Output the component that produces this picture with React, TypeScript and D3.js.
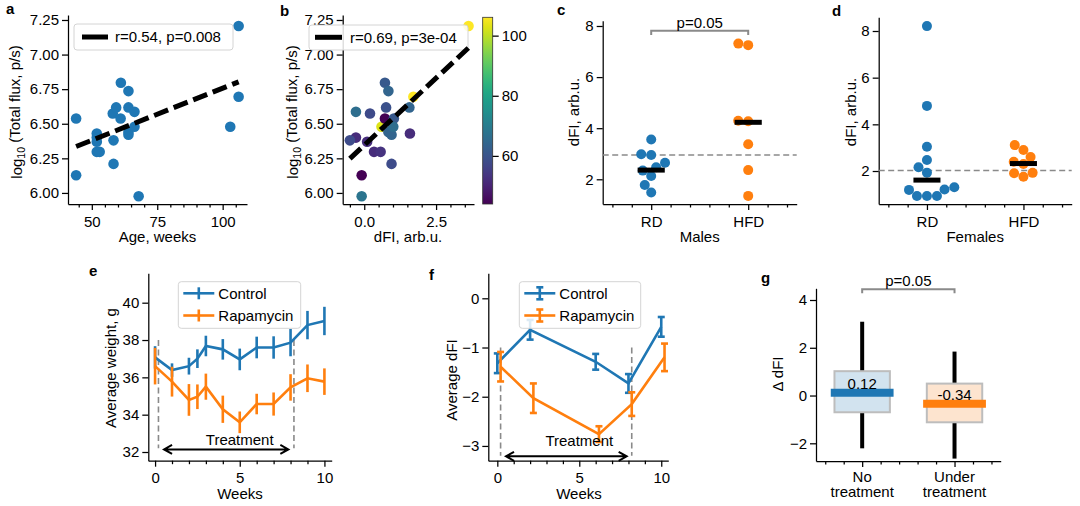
import React, { useEffect, useRef } from "react";
import * as d3 from "d3";

const FONT = '"Liberation Sans", Arial, Helvetica, sans-serif';
const BLUE = "#1f77b4";
const ORANGE = "#ff7f0e";
const GRAY = "#8a8a8a";

// ---------- Panels a & b : individual mice ----------
const mouseAge = [102.9, 44, 44, 51.9, 51.9, 51.9, 51.9, 53, 58.3, 58.3, 58, 59.3, 61, 61.1, 64, 64, 64, 64, 66.3, 66.3, 67.9, 106.1, 106.1];
const mouseFlux = [6.478, 6.538, 6.128, 6.43, 6.37, 6.297, 6.4, 6.297, 6.38, 6.21, 6.574, 6.618, 6.538, 6.796, 6.736, 6.618, 6.44, 6.42, 6.586, 6.478, 5.976, 6.695, 7.207];
const mouseDFI = [0.6, 0.72, -0.09, 1.59, 0.1, 0.34, -0.29, 0.57, -0.5, 0.95, 0.2, 0.76, 1.03, 0.72, 0.84, 1.57, 0.84, 0.95, -0.29, 1.01, -0.09, 1.71, 3.63];
const statsA = "r=0.54, p=0.008";
const statsB = "r=0.69, p=3e-04";
const colorbarTicks = [60, 80, 100];

// ---------- Panels c & d : dFI by diet ----------
const dietGroups = ["RD", "HFD"];
const maleRD = [3.56, 2.98, 2.95, 2.65, 2.47, 2.34, 2.13, 1.78, 1.48];
const maleHFD = [7.31, 7.25, 4.29, 4.27, 3.37, 2.36, 1.35];
const maleMedians = [2.36, 4.23];
const maleRef = 2.95;
const femaleRD = [8.21, 4.79, 3.04, 2.47, 2.16, 1.93, 1.3, 1.21, 1.19, 0.93, 0.93, 0.93];
const femaleHFD = [3.11, 2.9, 2.6, 2.4, 2.3, 1.92, 1.9, 1.75];
const femaleMedians = [1.61, 2.32];
const femaleRef = 2.02;
const pText = "p=0.05";

// ---------- Panel e : weight ----------
const weeksE = [0, 1, 2, 2.5, 3, 4, 5, 6, 7, 8, 9, 10];
const ctrlWeight = [37.07, 36.39, 36.6, 37.0, 37.68, 37.5, 36.96, 37.6, 37.6, 37.86, 38.8, 39.02];
const ctrlWeightErr = [0.6, 0.36, 0.45, 0.5, 0.55, 0.55, 0.58, 0.58, 0.6, 0.73, 0.76, 0.76];
const rapaWeight = [36.6, 35.77, 34.79, 34.96, 35.5, 34.29, 33.59, 34.57, 34.57, 35.46, 35.95, 35.77];
const rapaWeightErr = [0.98, 0.8, 0.85, 0.66, 0.7, 0.73, 0.58, 0.55, 0.62, 0.71, 0.74, 0.71];

// ---------- Panel f : average dFI ----------
const weeksFCtrl = [0, 2, 6, 8, 10];
const ctrlDFI = [-1.32, -0.64, -1.29, -1.73, -0.58];
const ctrlDFIErr = [0.2, 0.2, 0.16, 0.19, 0.2];
const weeksFRapa = [0.2, 2.2, 6.2, 8.2, 10.2];
const rapaDFI = [-1.39, -2.03, -2.76, -2.15, -1.2];
const rapaDFIErr = [0.3, 0.3, 0.16, 0.24, 0.28];
const treatmentStart = 0.2;
const treatmentEnd = 8.2;

// ---------- Panel g : delta dFI ----------
const gGroups = [["No", "treatment"], ["Under", "treatment"]];
const gMedian = [0.12, -0.34];
const gQ1 = [-0.7, -1.12];
const gQ3 = [1.02, 0.5];
const gWhiskLo = [-2.21, -2.64];
const gWhiskHi = [3.09, 1.84];
const gLabels = ["0.12", "-0.34"];

function swarm(values: number[], y: (v: number) => number, r: number): number[] {
  const idx = values.map((_, i) => i).sort((a, b) => values[a] - values[b]);
  const placed: { x: number; y: number }[] = [];
  const offs = new Array(values.length).fill(0);
  const d = 2 * r;
  for (const i of idx) {
    const py = y(values[i]);
    const cands = [0];
    for (const p of placed) {
      const dy = Math.abs(p.y - py);
      if (dy < d) {
        const dx = Math.sqrt(d * d - dy * dy);
        cands.push(p.x - dx, p.x + dx);
      }
    }
    cands.sort((a, b) => Math.abs(a) - Math.abs(b) || a - b);
    let chosen = 0;
    for (const c of cands) {
      if (placed.every((p) => (p.x - c) ** 2 + (p.y - py) ** 2 >= d * d - 1e-6)) {
        chosen = c;
        break;
      }
    }
    placed.push({ x: chosen, y: py });
    offs[i] = chosen;
  }
  return offs;
}

function linfit(xs: number[], ys: number[]) {
  const mx = d3.mean(xs)!, my = d3.mean(ys)!;
  let sxy = 0, sxx = 0;
  xs.forEach((x, i) => {
    sxy += (x - mx) * (ys[i] - my);
    sxx += (x - mx) * (x - mx);
  });
  const slope = sxy / sxx;
  return { slope, intercept: my - slope * mx };
}

export default function App() {
  const ref = useRef<SVGSVGElement | null>(null);
  useEffect(() => {
    const svg = d3.select(ref.current!);
    svg.selectAll("*").remove();
    const root = svg.append("g").attr("font-family", FONT).attr("font-size", 15);

    const style = (sel: any) => {
      sel.attr("font-family", FONT).attr("font-size", 15);
      sel.select(".domain").attr("stroke", "#000").attr("stroke-width", 1.25);
      sel.selectAll(".tick line").attr("stroke", "#000").attr("stroke-width", 1.25);
      sel.selectAll(".tick text").attr("fill", "#000");
    };

    const axes = (
      x: any, y: any,
      o: { xMajor: number[]; xMinor?: number[]; yMajor: number[]; xFmt?: any; yFmt?: any }
    ) => {
      const [x0] = x.range();
      const [y0] = y.range();
      const bx = root.append("g").attr("transform", `translate(0,${y0})`)
        .call(d3.axisBottom(x).tickValues(o.xMajor).tickSize(6).tickPadding(6).tickSizeOuter(0).tickFormat(o.xFmt || null));
      style(bx);
      if (o.xMinor) {
        const mx = root.append("g").attr("transform", `translate(0,${y0})`)
          .call(d3.axisBottom(x).tickValues(o.xMinor).tickSize(3.5).tickSizeOuter(0).tickFormat(() => ""));
        mx.select(".domain").remove();
        style(mx);
      }
      const ly = root.append("g").attr("transform", `translate(${x0},0)`)
        .call(d3.axisLeft(y).tickValues(o.yMajor).tickSize(6).tickPadding(3).tickSizeOuter(0).tickFormat(o.yFmt || null));
      style(ly);
      return bx;
    };

    const label = (x: number, y: number, s: string, rotate = false, size = 15) => {
      const t = root.append("text").attr("font-size", size).attr("text-anchor", "middle").attr("dy", "0.35em").attr("fill", "#000");
      if (rotate) t.attr("transform", `translate(${x},${y}) rotate(-90)`);
      else t.attr("x", x).attr("y", y);
      t.text(s);
      return t;
    };
    const panelLetter = (x: number, y: number, s: string) =>
      root.append("text").attr("x", x).attr("y", y).attr("font-weight", "bold").attr("font-size", 15).text(s);

    const legendBox = (x0: number, y0: number, x1: number, y1: number) =>
      root.append("rect").attr("x", x0).attr("y", y0).attr("width", x1 - x0).attr("height", y1 - y0)
        .attr("rx", 3).attr("fill", "#fff").attr("fill-opacity", 0.85).attr("stroke", "#d4d4d4").attr("stroke-width", 1);

    // ================= Panel a =================
    const ax = d3.scaleLinear().domain([40.9, 109.3]).range([68, 247]);
    const ay = d3.scaleLinear().domain([5.92, 7.286]).range([204, 15]);
    axes(ax, ay, {
      xMajor: [50, 75, 100],
      xMinor: d3.range(45, 106, 5).filter((v) => v % 25 !== 0),
      yMajor: [6, 6.25, 6.5, 6.75, 7, 7.25],
      yFmt: d3.format(".2f"),
    });
    root.append("g").selectAll("circle").data(mouseAge).join("circle")
      .attr("cx", (d) => ax(d)).attr("cy", (_, i) => ay(mouseFlux[i])).attr("r", 5.3).attr("fill", BLUE);
    const fitA = linfit(mouseAge, mouseFlux);
    const [aMin, aMax] = d3.extent(mouseAge) as [number, number];
    root.append("line").attr("x1", ax(aMin)).attr("x2", ax(aMax))
      .attr("y1", ay(fitA.intercept + fitA.slope * aMin)).attr("y2", ay(fitA.intercept + fitA.slope * aMax))
      .attr("stroke", "#000").attr("stroke-width", 5).attr("stroke-dasharray", "15,6");
    legendBox(74, 24, 233, 50);
    root.append("line").attr("x1", 82).attr("x2", 108).attr("y1", 37).attr("y2", 37).attr("stroke", "#000").attr("stroke-width", 5);
    root.append("text").attr("x", 115).attr("y", 37).attr("dy", "0.35em").text(statsA);
    label(157.5, 236.7, "Age, weeks");
    {
      const t = root.append("text").attr("text-anchor", "middle").attr("dy", "0.35em")
        .attr("transform", "translate(16.5,112) rotate(-90)");
      t.append("tspan").text("log");
      t.append("tspan").attr("font-size", 10.5).attr("dy", "0.3em").text("10");
      t.append("tspan").attr("dy", "-0.3em").text(" (Total flux, p/s)");
    }
    panelLetter(6, 14, "a");

    // ================= Panel b =================
    const bx = d3.scaleLinear().domain([-0.75, 3.82]).range([342.7, 474]);
    const by = ay.copy();
    axes(bx, by, {
      xMajor: [0, 2.5],
      xMinor: d3.range(-0.5, 3.6, 0.5).filter((v) => Math.abs(v) > 1e-6 && Math.abs(v - 2.5) > 1e-6),
      yMajor: [6, 6.25, 6.5, 6.75, 7, 7.25],
      xFmt: d3.format(".1f"),
      yFmt: d3.format(".2f"),
    });
    const ageExt = d3.extent(mouseAge) as [number, number];
    const color = d3.scaleSequential(d3.interpolateViridis).domain(ageExt);
    root.append("g").selectAll("circle").data(mouseDFI).join("circle")
      .attr("cx", (d) => bx(d)).attr("cy", (_, i) => by(mouseFlux[i])).attr("r", 5.3)
      .attr("fill", (_, i) => color(mouseAge[i]));
    const fitB = linfit(mouseDFI, mouseFlux);
    const [dMin, dMax] = d3.extent(mouseDFI) as [number, number];
    legendBox(309, 25, 468, 50);
    root.append("line").attr("x1", bx(dMin)).attr("x2", bx(dMax))
      .attr("y1", by(fitB.intercept + fitB.slope * dMin)).attr("y2", by(fitB.intercept + fitB.slope * dMax))
      .attr("stroke", "#000").attr("stroke-width", 5).attr("stroke-dasharray", "15,6");
    root.append("line").attr("x1", 315).attr("x2", 342).attr("y1", 37.3).attr("y2", 37.3).attr("stroke", "#000").attr("stroke-width", 5);
    root.append("text").attr("x", 350).attr("y", 37.3).attr("dy", "0.35em").text(statsB);
    label(408, 236.7, "dFI, arb.u.");
    label(293, 112, "log", true);
    {
      // replace simple label with subscript version
      root.selectAll("text").filter(function () { return (this as any).textContent === "log" && (this as any).getAttribute("transform")?.includes("293"); }).remove();
      const t = root.append("text").attr("text-anchor", "middle").attr("dy", "0.35em")
        .attr("transform", "translate(293,112) rotate(-90)");
      t.append("tspan").text("log");
      t.append("tspan").attr("font-size", 10.5).attr("dy", "0.3em").text("10");
      t.append("tspan").attr("dy", "-0.3em").text(" (Total flux, p/s)");
    }
    panelLetter(280, 16, "b");

    // colorbar
    const cbY = d3.scaleLinear().domain(ageExt).range([204, 17.3]);
    const defs = svg.append("defs");
    const grad = defs.append("linearGradient").attr("id", "viridisGrad").attr("x1", 0).attr("y1", 1).attr("x2", 0).attr("y2", 0);
    d3.range(0, 1.0001, 0.05).forEach((t) => grad.append("stop").attr("offset", t).attr("stop-color", d3.interpolateViridis(t)));
    root.append("rect").attr("x", 482.7).attr("y", 17.3).attr("width", 10).attr("height", 204 - 17.3)
      .attr("fill", "url(#viridisGrad)").attr("stroke", "#333").attr("stroke-width", 0.8);
    const cb = root.append("g").attr("transform", "translate(492.7,0)")
      .call(d3.axisRight(cbY).tickValues(colorbarTicks).tickSize(6).tickPadding(3).tickSizeOuter(0));
    style(cb);
    cb.select(".domain").remove();

    // ================= Panels c & d =================
    const swarmPanel = (
      x: any, y: any, groups: number[][], medians: number[], ref: number, xTitle: string,
      letter: [number, number, string], yLabelX: number
    ) => {
      axes(x, y, {
        xMajor: [0, 1],
        xMinor: d3.range(-0.4, 1.41, 0.2).filter((v) => Math.abs(v) > 1e-6 && Math.abs(v - 1) > 1e-6),
        yMajor: [2, 4, 6, 8],
        xFmt: (d: number) => dietGroups[d],
        yFmt: d3.format("d"),
      });
      const [xa, xb] = x.domain();
      root.append("line").attr("x1", x(xa)).attr("x2", x(xb)).attr("y1", y(ref)).attr("y2", y(ref))
        .attr("stroke", GRAY).attr("stroke-width", 1.6).attr("stroke-dasharray", "6,3.5");
      groups.forEach((vals, gi) => {
        const offs = swarm(vals, y, 5);
        root.append("g").selectAll("circle").data(vals).join("circle")
          .attr("cx", (_, i) => x(gi) + offs[i]).attr("cy", (d) => y(d)).attr("r", 5)
          .attr("fill", gi === 0 ? BLUE : ORANGE);
      });
      medians.forEach((m, gi) => {
        root.append("line").attr("x1", x(gi - 0.14)).attr("x2", x(gi + 0.14)).attr("y1", y(m)).attr("y2", y(m))
          .attr("stroke", "#000").attr("stroke-width", 5);
      });
      label((x(0) + x(1)) / 2, 236.7, xTitle);
      label(yLabelX, 112, "dFI, arb.u.", true);
      panelLetter(letter[0], letter[1], letter[2]);
    };

    const cx = d3.scaleLinear().domain([-0.5, 1.5]).range([602.7, 796.7]);
    const cy = d3.scaleLinear().domain([1.033, 8.207]).range([204, 20.7]);
    swarmPanel(cx, cy, [maleRD, maleHFD], maleMedians, maleRef, "Males", [557, 15, "c"], 574);
    {
      const top = cy(7.816);
      root.append("path").attr("d", `M${cx(0)},${top + 4.3}V${top}H${cx(1)}V${top + 4.3}`)
        .attr("fill", "none").attr("stroke", GRAY).attr("stroke-width", 2);
      root.append("text").attr("x", (cx(0) + cx(1)) / 2).attr("y", top - 3).attr("text-anchor", "middle").text(pText);
    }

    const dx = d3.scaleLinear().domain([-0.5, 1.5]).range([878.7, 1071.7]);
    const dy = d3.scaleLinear().domain([0.586, 8.587]).range([204, 17.3]);
    swarmPanel(dx, dy, [femaleRD, femaleHFD], femaleMedians, femaleRef, "Females", [832, 16, "d"], 851);

    // ================= Panel e =================
    const ex = d3.scaleLinear().domain([-0.4, 10.43]).range([148.3, 331.7]);
    const ey = d3.scaleLinear().domain([31.534, 41.575]).range([460.7, 273.3]);
    axes(ex, ey, {
      xMajor: [0, 5, 10],
      xMinor: d3.range(0, 11).filter((v) => v % 5 !== 0),
      yMajor: [32, 34, 36, 38, 40],
      xFmt: d3.format("d"),
      yFmt: d3.format("d"),
    });
    const treatLines = (x: any, y: any, yTop: number, yBot: number) => {
      [treatmentStart, treatmentEnd].forEach((w) => {
        root.append("line").attr("x1", x(w)).attr("x2", x(w)).attr("y1", y(yTop)).attr("y2", y(yBot))
          .attr("stroke", GRAY).attr("stroke-width", 1.6).attr("stroke-dasharray", "6,3.5");
      });
    };
    const arrow = (x: any, y: any, a: number, b: number, yy: number, ty: number) => {
      const X0 = x(a), X1 = x(b), Y = y(yy);
      root.append("path").attr("d", `M${X0},${Y}H${X1}M${X0 + 8},${Y - 4.5}L${X0},${Y}L${X0 + 8},${Y + 4.5}M${X1 - 8},${Y - 4.5}L${X1},${Y}L${X1 - 8},${Y + 4.5}`)
        .attr("fill", "none").attr("stroke", "#000").attr("stroke-width", 2);
      root.append("text").attr("x", x(5)).attr("y", y(ty)).attr("text-anchor", "middle").text("Treatment");
    };
    const series = (x: any, y: any, xs: number[], ys: number[], es: number[], col: string, cap: number) => {
      const line = d3.line<number>().x((_, i) => x(xs[i])).y((d) => y(d));
      root.append("path").attr("d", line(ys)!).attr("fill", "none").attr("stroke", col).attr("stroke-width", 2.6);
      const g = root.append("g").attr("stroke", col).attr("stroke-width", 2.6);
      ys.forEach((v, i) => {
        const X = x(xs[i]);
        g.append("line").attr("x1", X).attr("x2", X).attr("y1", y(v - es[i])).attr("y2", y(v + es[i]));
        if (cap > 0) {
          g.append("line").attr("x1", X - cap).attr("x2", X + cap).attr("y1", y(v - es[i])).attr("y2", y(v - es[i]));
          g.append("line").attr("x1", X - cap).attr("x2", X + cap).attr("y1", y(v + es[i])).attr("y2", y(v + es[i]));
        }
      });
    };
    const legendEF = (x0: number, x1: number, cap: number) => {
      legendBox(x0, 281.7, x1, 328.3);
      [["Control", BLUE, 293.3], ["Rapamycin", ORANGE, 315.5]].forEach(([name, col, yy]: any) => {
        const g = root.append("g").attr("stroke", col).attr("stroke-width", 2.6);
        g.append("line").attr("x1", x0 + 5).attr("x2", x0 + 36).attr("y1", yy).attr("y2", yy);
        const mx = x0 + 20.5;
        g.append("line").attr("x1", mx).attr("x2", mx).attr("y1", yy - 6).attr("y2", yy + 6);
        if (cap > 0) {
          g.append("line").attr("x1", mx - cap).attr("x2", mx + cap).attr("y1", yy - 6).attr("y2", yy - 6);
          g.append("line").attr("x1", mx - cap).attr("x2", mx + cap).attr("y1", yy + 6).attr("y2", yy + 6);
        }
        root.append("text").attr("x", x0 + 40).attr("y", yy).attr("dy", "0.35em").text(name);
      });
    };
    treatLines(ex, ey, 38, 32.2);
    series(ex, ey, weeksE, ctrlWeight, ctrlWeightErr, BLUE, 0);
    series(ex, ey, weeksE, rapaWeight, rapaWeightErr, ORANGE, 0);
    arrow(ex, ey, 0.53, 7.87, 32.14, 32.375);
    legendEF(178.3, 300.7, 0);
    label(240, 493.3, "Weeks");
    label(111, 368, "Average weight, g", true);
    panelLetter(89, 276, "e");

    // ================= Panel f =================
    const fx = d3.scaleLinear().domain([-0.55, 10.43]).range([488.3, 668.3]);
    const fy = d3.scaleLinear().domain([-3.3, 0.508]).range([460.7, 273.3]);
    axes(fx, fy, {
      xMajor: [0, 5, 10],
      xMinor: d3.range(0, 11).filter((v) => v % 5 !== 0),
      yMajor: [-3, -2, -1, 0],
      xFmt: d3.format("d"),
      yFmt: d3.format("d"),
    });
    treatLines(fx, fy, -1.0, -3.2);
    series(fx, fy, weeksFCtrl, ctrlDFI, ctrlDFIErr, BLUE, 3.5);
    series(fx, fy, weeksFRapa, rapaDFI, rapaDFIErr, ORANGE, 3.5);
    arrow(fx, fy, 0.53, 7.89, -3.21, -3.0);
    legendEF(519.3, 640.7, 3.5);
    label(579, 493.3, "Weeks");
    label(451.7, 380, "Average dFI", true);
    panelLetter(429, 280, "f");

    // ================= Panel g =================
    const gx = d3.scaleLinear().domain([-0.5, 1.5]).range([816, 1000.7]);
    const gy = d3.scaleLinear().domain([-2.741, 4.49]).range([461, 288.3]);
    const gax = axes(gx, gy, {
      xMajor: [0, 1],
      xMinor: d3.range(-0.4, 1.41, 0.2).filter((v) => Math.abs(v) > 1e-6 && Math.abs(v - 1) > 1e-6),
      yMajor: [-2, 0, 2, 4],
      xFmt: () => "",
      yFmt: d3.format("d"),
    });
    gGroups.forEach((lines, i) => {
      lines.forEach((s, k) => label(gx(i), 476.7 + k * 15, s));
    });
    const boxFill = ["#d2e3ef", "#fde4cf"];
    const medCol = [BLUE, ORANGE];
    gMedian.forEach((m, i) => {
      const X = gx(i);
      root.append("line").attr("x1", X).attr("x2", X).attr("y1", gy(gQ3[i])).attr("y2", gy(gWhiskHi[i])).attr("stroke", "#000").attr("stroke-width", 4);
      root.append("line").attr("x1", X).attr("x2", X).attr("y1", gy(gQ1[i])).attr("y2", gy(gWhiskLo[i])).attr("stroke", "#000").attr("stroke-width", 4);
      root.append("rect").attr("x", gx(i - 0.3)).attr("width", gx(i + 0.3) - gx(i - 0.3))
        .attr("y", gy(gQ3[i])).attr("height", gy(gQ1[i]) - gy(gQ3[i]))
        .attr("fill", boxFill[i]).attr("stroke", "#bdbdbd").attr("stroke-width", 2);
      root.append("line").attr("x1", gx(i - 0.34)).attr("x2", gx(i + 0.34)).attr("y1", gy(m)).attr("y2", gy(m))
        .attr("stroke", medCol[i]).attr("stroke-width", 8);
      root.append("text").attr("x", X).attr("y", gy(m) - 4).attr("text-anchor", "middle").text(gLabels[i]);
    });
    {
      const top = gy(4.448);
      root.append("path").attr("d", `M${gx(0)},${top + 4}V${top}H${gx(1)}V${top + 4}`)
        .attr("fill", "none").attr("stroke", GRAY).attr("stroke-width", 2);
      root.append("text").attr("x", (gx(0) + gx(1)) / 2).attr("y", top - 3.5).attr("text-anchor", "middle").text(pText);
    }
    label(777.5, 374, "Δ dFI", true);
    panelLetter(761, 283, "g");
    void gax;
  }, []);

  return (
    <svg
      ref={ref}
      width={1080}
      height={506}
      style={{ position: "absolute", left: 0, top: 0, background: "#fff" }}
    />
  );
}
